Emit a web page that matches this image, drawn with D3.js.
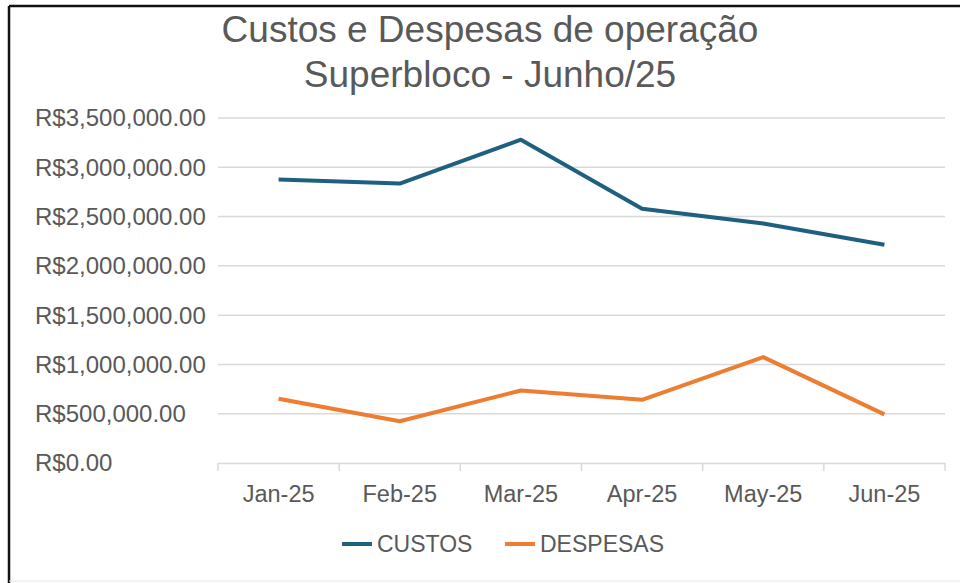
<!DOCTYPE html>
<html>
<head>
<meta charset="utf-8">
<script src="https://cdn.jsdelivr.net/npm/d3@7"></script>
<style>
  body { margin: 0; background: #fff; }
  text { font-family: "Liberation Sans", Arial, sans-serif; fill: #595959; }
</style>
</head>
<body>
<div id="chart"></div>
<script>
// Data
const months = ['Jan-25', 'Feb-25', 'Mar-25', 'Apr-25', 'May-25', 'Jun-25'];
const custos = [2875000, 2835000, 3280000, 2580000, 2430000, 2215000];
const despesas = [652000, 424000, 736000, 641000, 1074000, 493000];
const yTicks = [0, 500000, 1000000, 1500000, 2000000, 2500000, 3000000, 3500000];
const seriesNames = ['CUSTOS', 'DESPESAS'];
const colors = ['#1f5f80', '#ed7d31'];

const width = 960;
const height = 583;
const margin = { top: 118, right: 15, bottom: 120, left: 218 };

const svg = d3.select('#chart')
    .append('svg')
    .attr('width', width)
    .attr('height', height);

// frame like the screenshot
svg.append('line').attr('x1', 9).attr('x2', width).attr('y1', 6).attr('y2', 6)
    .attr('stroke', '#111').attr('stroke-width', 2.5);
svg.append('line').attr('x1', 9).attr('x2', 9).attr('y1', 6).attr('y2', height)
    .attr('stroke', '#111').attr('stroke-width', 2.5);
svg.append('line').attr('x1', 9).attr('x2', width).attr('y1', 581).attr('y2', 581)
    .attr('stroke', '#e6e6e6').attr('stroke-width', 1);

// Title
svg.append('text')
    .attr('x', 490).attr('y', 42)
    .attr('text-anchor', 'middle')
    .style('font-size', '37px')
    .text('Custos e Despesas de operação');
svg.append('text')
    .attr('x', 490).attr('y', 87)
    .attr('text-anchor', 'middle')
    .style('font-size', '37px')
    .text('Superbloco - Junho/25');

const xScale = d3.scaleBand()
    .domain(months)
    .range([margin.left, width - margin.right]);

const yScale = d3.scaleLinear()
    .domain([0, 3500000])
    .range([height - margin.bottom, margin.top]);

// gridlines
svg.append('g')
    .selectAll('line')
    .data(yTicks.filter(d => d > 0))
    .join('line')
    .attr('x1', margin.left)
    .attr('x2', width - margin.right)
    .attr('y1', d => yScale(d))
    .attr('y2', d => yScale(d))
    .attr('stroke', '#d9d9d9')
    .attr('stroke-width', 1.5);

// y labels, left aligned
const fmt = d3.format(',.2f');
svg.append('g')
    .selectAll('text')
    .data(yTicks)
    .join('text')
    .attr('x', 35)
    .attr('y', d => yScale(d))
    .attr('dy', '0.35em')
    .style('font-size', '24px')
    .text(d => 'R$' + fmt(d));

// x axis
const xAxis = svg.append('g')
    .attr('transform', `translate(0,${height - margin.bottom})`)
    .call(d3.axisBottom(xScale).tickSizeOuter(0).tickSize(0).tickPadding(22));
xAxis.select('.domain').attr('stroke', '#d9d9d9').attr('stroke-width', 1.5);
xAxis.selectAll('text')
    .style('font-size', '23.5px')
    .style('font-family', '"Liberation Sans", Arial, sans-serif')
    .attr('fill', '#595959');
// category separators
svg.append('g')
    .selectAll('line')
    .data(months.concat(['end']))
    .join('line')
    .attr('x1', (d, i) => margin.left + i * xScale.bandwidth())
    .attr('x2', (d, i) => margin.left + i * xScale.bandwidth())
    .attr('y1', height - margin.bottom)
    .attr('y2', height - margin.bottom + 8)
    .attr('stroke', '#d9d9d9')
    .attr('stroke-width', 1.5);

// lines
const line = d3.line()
    .x((d, i) => xScale(months[i]) + xScale.bandwidth() / 2)
    .y(d => yScale(d));

svg.append('g')
    .selectAll('path')
    .data([custos, despesas])
    .join('path')
    .attr('d', d => line(d))
    .attr('fill', 'none')
    .attr('stroke', (d, i) => colors[i])
    .attr('stroke-width', 4)
    .attr('stroke-linejoin', 'round');

// legend
const legendX = [342, 505];
const legend = svg.append('g')
    .selectAll('g')
    .data(seriesNames)
    .join('g')
    .attr('transform', (d, i) => `translate(${legendX[i]},544)`);
legend.append('line')
    .attr('x1', 0).attr('x2', 30)
    .attr('stroke', (d, i) => colors[i])
    .attr('stroke-width', 4);
legend.append('text')
    .attr('x', 35)
    .attr('dy', '0.35em')
    .style('font-size', '23px')
    .text(d => d);
</script>
</body>
</html>
